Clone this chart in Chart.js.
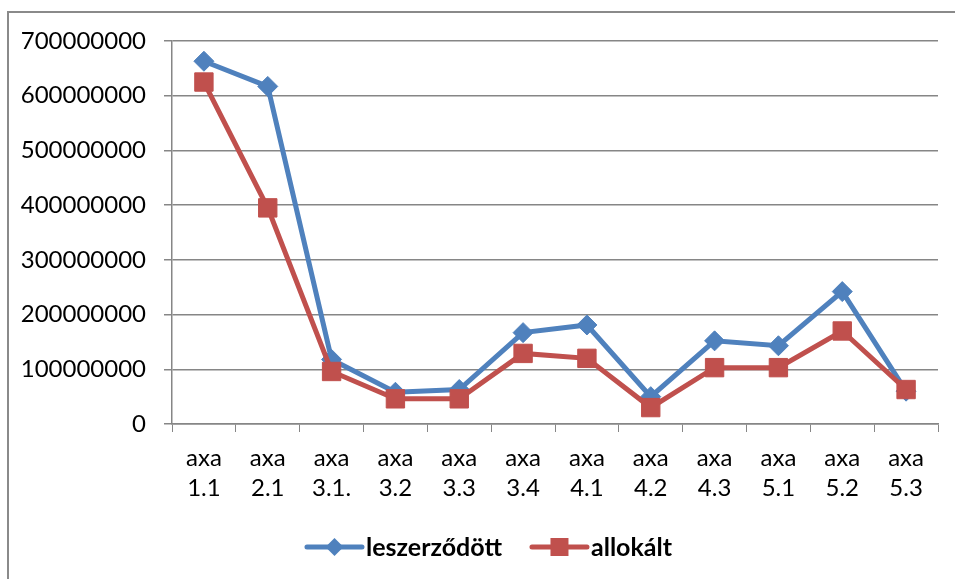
<!DOCTYPE html>
<html>
<head>
<meta charset="utf-8">
<script src="https://cdn.jsdelivr.net/npm/chart.js@4"></script>
<style>
  body { margin: 0; background: #fff; overflow: hidden; }
  #frame { position: absolute; left: 7px; top: 11px; width: 2000px; height: 2000px; border-left: 2px solid #8a8a8a; border-top: 2px solid #8a8a8a; }
  #lineChart { position: absolute; left: 0; top: 0; }
</style>
</head>
<body>
<div id="frame"></div>
<canvas id="lineChart" width="955" height="579"></canvas>
<script>
const categories = ['axa 1.1', 'axa 2.1', 'axa 3.1.', 'axa 3.2', 'axa 3.3', 'axa 3.4', 'axa 4.1', 'axa 4.2', 'axa 4.3', 'axa 5.1', 'axa 5.2', 'axa 5.3'];
const leszerzodott = [663000000, 617000000, 118000000, 58000000, 63000000, 167000000, 181000000, 50000000, 152000000, 143000000, 242000000, 60000000];
const allokalt = [625000000, 395000000, 96000000, 46000000, 46000000, 129000000, 120000000, 30000000, 103000000, 103000000, 170000000, 63000000];

const blue = '#4F81BD';
const red = '#C0504D';
const gridColor = '#868686';
const fontFamily = 'Lato, "Open Sans", sans-serif';

// legend drawn as line + marker + bold label, like the office legend
const lineLegend = {
    id: 'lineLegend',
    afterDraw(chart) {
        const c = chart.ctx;
        const y = 547;
        const lineLen = 55;
        const gap = 4;
        const itemGap = 30;
        c.save();
        c.font = 'bold 25px ' + fontFamily;
        c.textBaseline = 'middle';
        const items = chart.data.datasets.map(ds => ({
            ds,
            w: lineLen + gap + c.measureText(ds.label).width
        }));
        const total = items.reduce((a, b) => a + b.w, 0) + itemGap * (items.length - 1);
        let x = (chart.width - total) / 2 + 12;
        items.forEach(({ ds, w }) => {
            c.strokeStyle = ds.borderColor;
            c.lineWidth = 5;
            c.lineCap = 'round';
            c.beginPath();
            c.moveTo(x, y);
            c.lineTo(x + lineLen, y);
            c.stroke();
            c.fillStyle = ds.pointBackgroundColor;
            c.beginPath();
            if (ds.pointStyle === 'rectRot') {
                const r = 9;
                const cx = x + lineLen / 2;
                c.moveTo(cx, y - r);
                c.lineTo(cx + r, y);
                c.lineTo(cx, y + r);
                c.lineTo(cx - r, y);
                c.closePath();
            } else {
                c.rect(x + lineLen / 2 - 9, y - 9, 18, 18);
            }
            c.fill();
            c.fillStyle = '#000';
            c.fillText(ds.label, x + lineLen + gap, y + 1);
            x += w + itemGap;
        });
        c.restore();
    }
};

const chart = new Chart(document.getElementById('lineChart').getContext('2d'), {
    type: 'line',
    data: {
        labels: categories.map(c => c.split(' ')),
        datasets: [
            {
                label: 'leszerződött',
                data: leszerzodott,
                borderColor: blue,
                backgroundColor: blue,
                pointBackgroundColor: blue,
                pointBorderColor: blue,
                pointStyle: 'rectRot',
                pointRadius: 10,
                pointBorderWidth: 1,
                borderWidth: 5,
                tension: 0,
                order: 1
            },
            {
                label: 'allokált',
                data: allokalt,
                borderColor: red,
                backgroundColor: red,
                pointBackgroundColor: red,
                pointBorderColor: red,
                pointStyle: 'rect',
                pointRadius: 13,
                pointBorderWidth: 1,
                borderWidth: 5,
                tension: 0,
                order: 0
            }
        ]
    },
    options: {
        responsive: false,
        animation: false,
        devicePixelRatio: 1,
        layout: {
            padding: { top: 41, right: 17, bottom: 65, left: 0 }
        },
        plugins: {
            legend: { display: false },
            tooltip: { enabled: false }
        },
        scales: {
            x: {
                offset: true,
                grid: {
                    offset: true,
                    drawOnChartArea: false,
                    drawTicks: true,
                    tickLength: 8,
                    color: gridColor
                },
                border: { color: gridColor, width: 1.5 },
                ticks: {
                    color: '#000',
                    padding: 11,
                    maxRotation: 0,
                    autoSkip: false,
                    font: { family: fontFamily, size: 24, lineHeight: 1.25 }
                },
                afterFit(scale) { scale.height = 90; }
            },
            y: {
                min: 0,
                max: 700000000,
                grid: {
                    color: gridColor,
                    lineWidth: 1.5,
                    tickLength: 8
                },
                border: { color: gridColor, width: 1.5 },
                ticks: {
                    stepSize: 100000000,
                    color: '#000',
                    padding: 18,
                    font: { family: fontFamily, size: 24 },
                    callback: v => String(v)
                },
                afterFit(scale) { scale.width = 172; }
            }
        }
    },
    plugins: [lineLegend]
});
</script>
</body>
</html>
